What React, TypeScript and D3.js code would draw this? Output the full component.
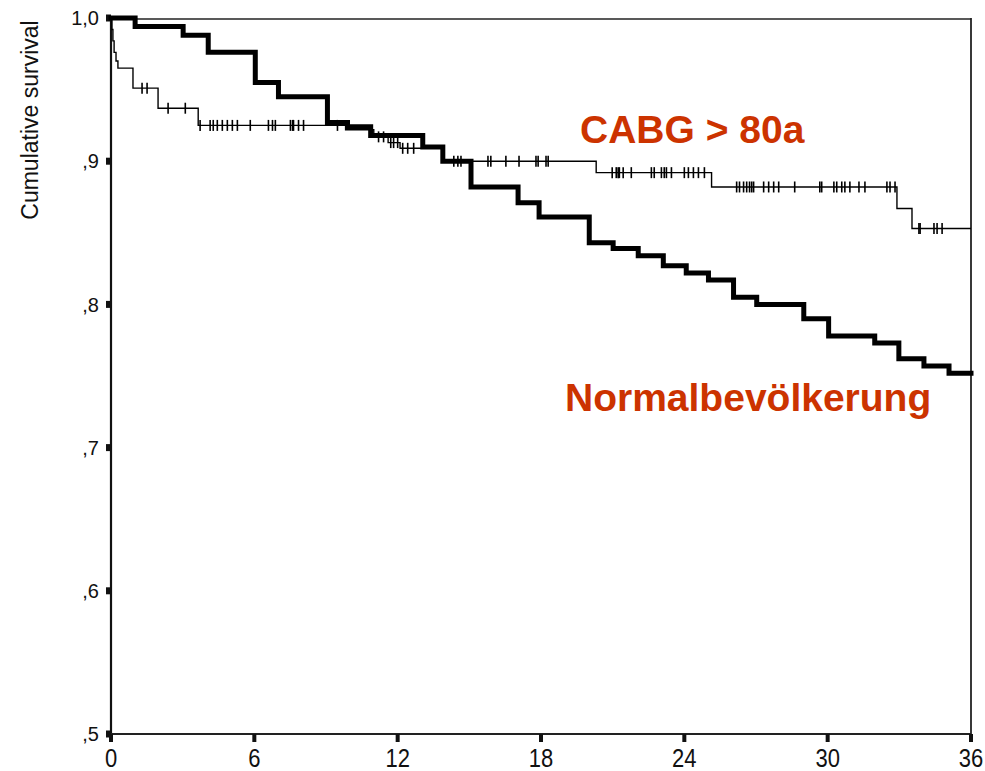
import React from "react";
import * as d3 from "d3";

// ---- data ----
// CABG > 80a (thin line): [month, cumulative survival after step]
const cabgSteps: [number, number][] = [
  [0, 1.0], [0.04, 0.992], [0.08, 0.984], [0.13, 0.976], [0.21, 0.97], [0.29, 0.965],
  [0.92, 0.951], [1.97, 0.937], [3.65, 0.925], [9.82, 0.922], [11.0, 0.917],
  [11.6, 0.913], [12.1, 0.909], [13.89, 0.9], [20.31, 0.892], [25.14, 0.882],
  [32.9, 0.867], [33.53, 0.853], [36, 0.853],
];
// censored observations (months) for CABG
const cabgCensored: number[] = [
  1.3, 1.51, 2.39, 3.11,
  3.73, 4.15, 4.28, 4.45, 4.66, 4.87, 5.08, 5.29, 5.83, 6.59, 6.76, 6.88, 7.51, 7.6, 7.64, 7.85, 8.06, 9.48,
  11.2, 11.41, 11.71, 11.83, 12.0, 12.21, 12.42, 12.67,
  14.35, 14.52, 14.65, 15.78, 15.9, 16.53, 17.08, 17.79, 17.88, 18.21, 18.3,
  20.98, 21.15, 21.23, 21.28, 21.44, 21.78, 22.62, 22.74, 23.04, 23.16, 23.25, 23.46, 24.0, 24.17, 24.38, 24.59, 24.84,
  26.19, 26.31, 26.48, 26.61, 26.73, 26.82, 26.9, 27.32, 27.53, 27.74, 27.95, 28.62, 29.67, 29.75,
  30.26, 30.38, 30.59, 30.72, 30.93, 31.31, 31.56, 32.48, 32.61, 32.82,
  33.82, 33.87, 34.45, 34.58, 34.79,
];
// Normalbevölkerung (thick line)
const normalSteps: [number, number][] = [
  [0, 1.0], [1.01, 0.994], [3.02, 0.988], [4.07, 0.976], [6.04, 0.955], [7.01, 0.945],
  [9.06, 0.927], [9.9, 0.924], [10.87, 0.918], [13.05, 0.91], [13.89, 0.9], [15.07, 0.882],
  [17.04, 0.871], [17.92, 0.861], [20.02, 0.843], [21.02, 0.839], [22.07, 0.834], [23.12, 0.827],
  [24.08, 0.822], [25.01, 0.817], [26.06, 0.805], [27.03, 0.8], [29.0, 0.79], [30.04, 0.778],
  [31.97, 0.773], [32.98, 0.762], [34.03, 0.757], [35.08, 0.752], [36, 0.752],
];
const xTicks = [0, 6, 12, 18, 24, 30, 36];
const yTicks = [1.0, 0.9, 0.8, 0.7, 0.6, 0.5];
const yTickLabels = ["1,0", ",9", ",8", ",7", ",6", ",5"];
const yLabel = "Cumulative survival";
const labelCabg = "CABG > 80a";
const labelNormal = "Normalbevölkerung";

const W = 985, H = 771;
const x = d3.scaleLinear().domain([0, 36]).range([111, 971]);
const y = d3.scaleLinear().domain([0.5, 1.0]).range([734, 18]);

function survAt(steps: [number, number][], t: number): number {
  let v = steps[0][1];
  for (const [tt, s] of steps) { if (tt <= t) v = s; else break; }
  return v;
}

export default function App() {
  const line = d3.line<[number, number]>().x(d => x(d[0])).y(d => y(d[1])).curve(d3.curveStepAfter);
  const font = "'Liberation Sans', Arial, Helvetica, sans-serif";
  return (
    <svg width={W} height={H} style={{ position: "absolute", left: 0, top: 0, background: "#fff" }}>
      {/* frame */}
      <line x1={x(0)} x2={x(36)} y1={y(1.0) + 1} y2={y(1.0) + 1} stroke="#222" strokeWidth={1.5} />
      <line x1={x(36)} x2={x(36)} y1={y(1.0)} y2={y(0.5)} stroke="#222" strokeWidth={1.8} />
      <line x1={x(0)} x2={x(0)} y1={y(1.0)} y2={y(0.5)} stroke="#111" strokeWidth={2.2} />
      <line x1={x(0)} x2={x(36)} y1={y(0.5)} y2={y(0.5)} stroke="#222" strokeWidth={2} />
      {/* y ticks */}
      {yTicks.map((v, i) => (
        <g key={"y" + i}>
          <rect x={x(0) - 5} y={y(v) - 3.5} width={5} height={7} fill="#111" />
          <text x={x(0) - 12} y={y(v)} dy="0.36em" textAnchor="end" fontFamily={font} fontSize={20} fill="#111">
            {yTickLabels[i]}
          </text>
        </g>
      ))}
      {/* x ticks */}
      {xTicks.map(t => (
        <g key={"x" + t}>
          <rect x={x(t) - 2} y={y(0.5)} width={4} height={8} fill="#111" />
          <text x={x(t)} y={y(0.5) + 33} textAnchor="middle" fontFamily={font} fontSize={25} fill="#111"
            transform={`translate(${x(t)},0) scale(0.88,1) translate(${-x(t)},0)`}>
            {t}
          </text>
        </g>
      ))}
      {/* y label */}
      <text transform={`translate(38,120) rotate(-90)`} x={0} y={0} textAnchor="middle"
        fontFamily={font} fontSize={23} fill="#111">
        {yLabel}
      </text>
      {/* curves */}
      <path d={line(normalSteps) || ""} fill="none" stroke="#000" strokeWidth={5} strokeLinejoin="miter" strokeLinecap="square" />
      <path d={line(cabgSteps) || ""} fill="none" stroke="#000" strokeWidth={1.4} />
      {cabgCensored.map((t, i) => {
        const cy = y(survAt(cabgSteps, t));
        return <line key={"c" + i} x1={x(t)} x2={x(t)} y1={cy - 5.5} y2={cy + 5.5} stroke="#000" strokeWidth={1.6} />;
      })}
      {/* annotations */}
      <text x={580} y={143} fontFamily={font} fontWeight="bold" fontSize={39} fill="#cc3300">{labelCabg}</text>
      <text x={565} y={411} fontFamily={font} fontWeight="bold" fontSize={39} fill="#cc3300">{labelNormal}</text>
    </svg>
  );
}
